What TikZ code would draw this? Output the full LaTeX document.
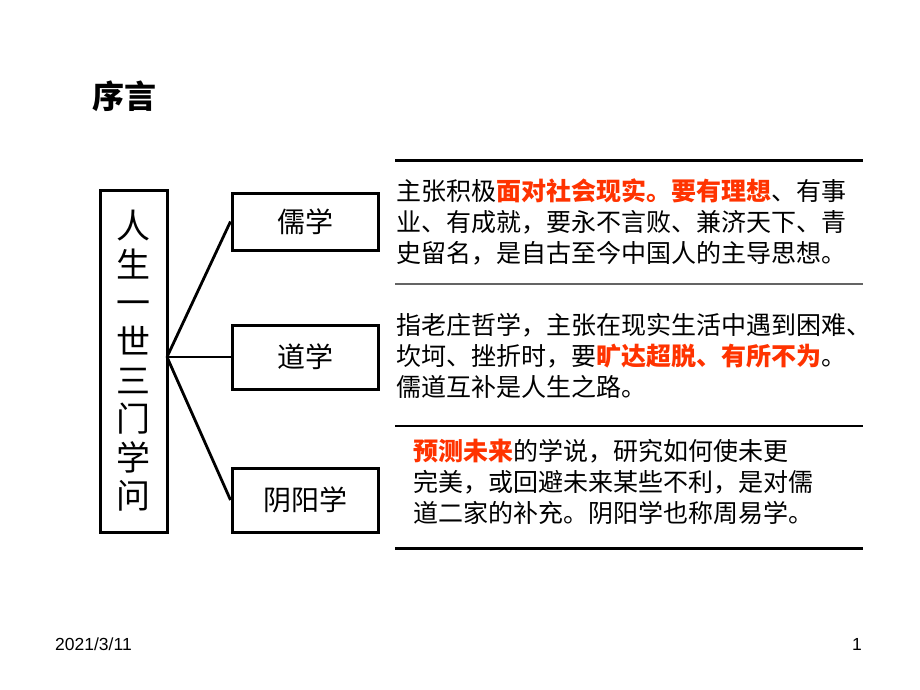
\documentclass[tikz,border=0pt]{standalone}
\usepackage{fontspec}
\setmainfont{Noto Sans CJK SC}
\newfontfamily\latinfont{Liberation Sans}
\definecolor{hired}{RGB}{255,51,0}
\definecolor{rulegray}{RGB}{100,100,100}
\usetikzlibrary{positioning}
\begin{document}
\begin{tikzpicture}[x=1pt,y=-1pt,
		xuebox/.style={draw,line width=3pt,inner sep=0pt,minimum width=146pt},
		note/.style={anchor=north west,inner sep=0pt,align=left,
			font=\fontsize{25}{31}\selectfont},
		rule/.style={line width=3pt},
		thinrule/.style={line width=1.4pt}]
	\useasboundingbox (0,0) rectangle (920,690);
	% title
	\node[font=\fontsize{32}{32}\selectfont\bfseries] (title) at (124,96) {序言};
	% left box
	\node[draw,line width=3pt,minimum width=67pt,minimum height=342pt,inner sep=0pt,
		align=center,font=\fontsize{34}{38.6}\selectfont] (life) at (133.5,361)
		{人\\生\\一\\世\\三\\门\\学\\问};
	\coordinate (hub) at (167,357);
	% three schools
	\node[xuebox,minimum height=57pt,font=\fontsize{28}{28}\selectfont] (ru) at (305,221.5) {儒学};
	\node[xuebox,minimum height=64pt,font=\fontsize{28}{28}\selectfont] (dao) at (305,357) {道学};
	\node[xuebox,minimum height=64pt,font=\fontsize{28}{28}\selectfont] (yy) at (305,500) {阴阳学};
	\draw[line width=2.8pt] (hub) -- (ru.west);
	\draw[line width=2.8pt] (hub) -- (dao.west);
	\draw[line width=2.8pt] (hub) -- (yy.west);
	% rules
	\coordinate (r1a) at (395,160); \coordinate (r1b) at (863,160);
	\coordinate (r2a) at (395,284); \coordinate (r2b) at (863,284);
	\coordinate (r3a) at (395,426); \coordinate (r3b) at (863,426);
	\coordinate (r4a) at (395,548); \coordinate (r4b) at (863,548);
	\draw[rule] (r1a) -- (r1b);
	\draw[thinrule,rulegray] (r2a) -- (r2b);
	\draw[thinrule] (r3a) -- (r3b);
	\draw[rule] (r4a) -- (r4b);
	% notes
	\node[note] (runote) at (396,179)
		{主张积极{\color{hired}\bfseries 面对社会现实。要有理想}、有事\\
		业、有成就，要永不言败、兼济天下、青\\
		史留名，是自古至今中国人的主导思想。};
	\node[note] (daonote) at (396,313)
		{指老庄哲学，主张在现实生活中遇到困难、\\
		坎坷、挫折时，要{\color{hired}\bfseries 旷达超脱、有所不为}。\\
		儒道互补是人生之路。};
	\node[note] (yynote) at (413,439)
		{{\color{hired}\bfseries 预测未来}的学说，研究如何使未更\\
		完美，或回避未来某些不利，是对儒\\
		道二家的补充。阴阳学也称周易学。};
	% footer
	\node[anchor=base west,inner sep=0pt,font=\latinfont\fontsize{17.5}{17.5}\selectfont] (date) at (55,650) {2021/3/11};
	\node[anchor=base east,inner sep=0pt,font=\latinfont\fontsize{17.5}{17.5}\selectfont] (page) at (862,650) {1};
\end{tikzpicture}
\end{document}
